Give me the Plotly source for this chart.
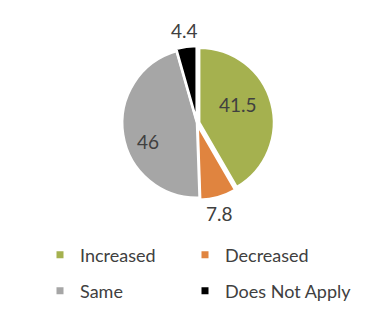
import plotly.graph_objects as go

labels = ["Increased", "Decreased", "Same", "Does Not Apply"]
values = [41.5, 7.8, 46, 4.4]
colors = ["#A5B14F", "#E0843F", "#A6A6A6", "#000000"]

FONT = "Lato"
TXT = "#404040"

# where each value label sits (pixel centres) and each legend entry starts
label_px = [(238, 104), (219, 213), (148, 141), (184, 31)]
legend_px = [(40, 255), (185, 255), (40, 291), (185, 291)]

W, H = 368, 328

fig = go.Figure()

fig.add_trace(
    go.Pie(
        labels=labels,
        values=values,
        textinfo="none",
        sort=False,
        direction="clockwise",
        rotation=0,
        pull=[0.03, 0.03, 0.0, 0.03],
        marker=dict(colors=colors, line=dict(color="white", width=2.5)),
        domain=dict(x=[(197 - 77) / W, (197 + 77) / W],
                    y=[1 - 200 / H, 1 - 46 / H]),
        hoverinfo="label+value",
        showlegend=False,
    )
)

# value labels
for v, (px, py) in zip(values, label_px):
    fig.add_annotation(x=px / W, y=1 - py / H, xref="paper", yref="paper",
                       xanchor="center", yanchor="middle",
                       text=f"{v:g}", showarrow=False,
                       font=dict(size=19, color=TXT, family=FONT))

# legend entries: one small square swatch per legend box
legend_layout = {}
for i, (lab, col, (lx, ly)) in enumerate(zip(labels, colors, legend_px)):
    key = "legend" if i == 0 else f"legend{i + 1}"
    fig.add_trace(
        go.Scatter(
            x=[None], y=[None], mode="markers", name=lab,
            marker=dict(symbol="square", size=7, color=col),
            legend=key, showlegend=True,
        )
    )
    legend_layout[key] = dict(
        x=lx / W, y=1 - ly / H,
        xanchor="left", yanchor="middle",
        orientation="h",
        font=dict(size=18, color=TXT, family=FONT),
        bgcolor="rgba(0,0,0,0)",
        itemwidth=30,
    )

fig.update_layout(
    width=W,
    height=H,
    margin=dict(l=0, r=0, t=0, b=0),
    paper_bgcolor="white",
    plot_bgcolor="white",
    font=dict(family=FONT, color=TXT),
    xaxis=dict(visible=False),
    yaxis=dict(visible=False),
    **legend_layout,
)

fig.write_html("out.html")
